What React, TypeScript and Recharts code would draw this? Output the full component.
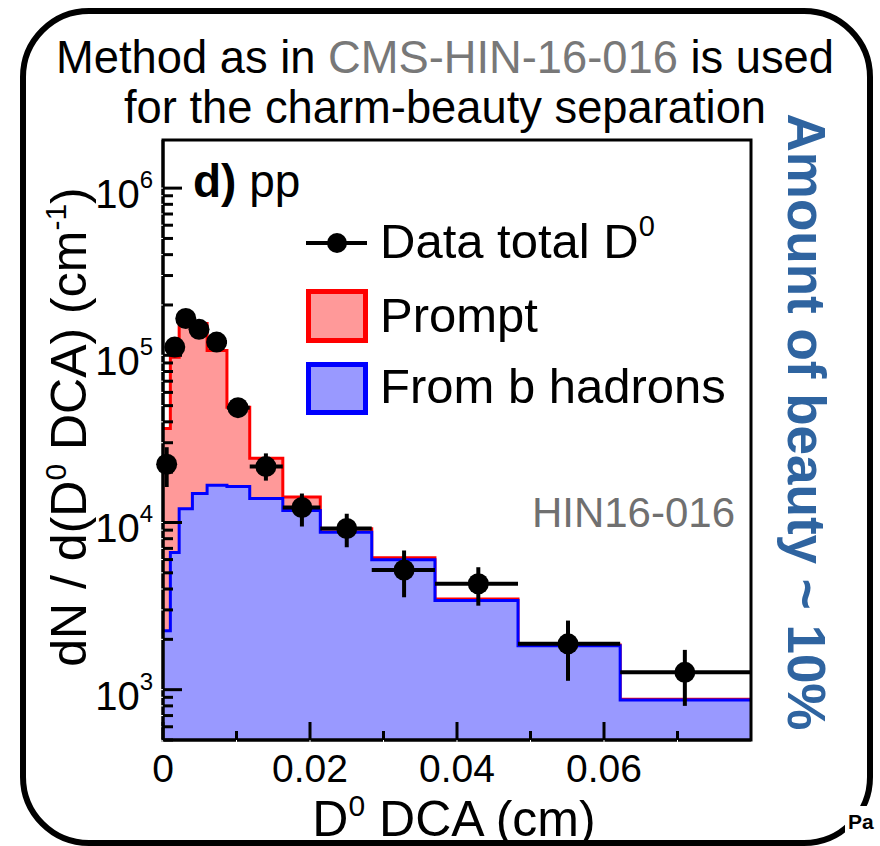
import React from "react";
import { ComposedChart, Area, Scatter, ErrorBar, XAxis, YAxis, ReferenceArea } from "recharts";

// D0 DCA bin edges (cm)
const binEdges = [0, 0.001, 0.0022, 0.004, 0.006, 0.0087, 0.0118, 0.0163, 0.0214, 0.0284, 0.037, 0.0483, 0.0622, 0.08];
// stacked template: prompt + from b (drawn red), and from b alone (drawn blue)
const promptPlusB = [36500, 97300, 160000, 155000, 107000, 48900, 24200, 14200, 9170, 6150, 3490, 1850, 875];
const fromB = [2250, 6610, 12100, 14900, 16700, 16400, 13900, 11800, 8750, 5990, 3410, 1830, 868];

// data total D0
const dataX = [0.0005, 0.0016, 0.0031, 0.0049, 0.0073, 0.0102, 0.014, 0.0189, 0.025, 0.0328, 0.0429, 0.0551, 0.071];
const dataY = [22300, 112000, 166000, 143000, 120000, 48600, 21600, 12300, 9200, 5200, 4300, 1880, 1270];
const dataYLow = [16300, 105000, 156000, 134000, 113000, 45000, 17800, 9460, 7110, 3570, 3180, 1130, 800];
const dataYHigh = [28200, 119000, 176000, 152000, 127000, 52500, 25900, 14900, 11280, 6800, 5400, 2590, 1730];

const yTicks = [
  500, 600, 700, 800, 900,
  1000, 2000, 3000, 4000, 5000, 6000, 7000, 8000, 9000,
  10000, 20000, 30000, 40000, 50000, 60000, 70000, 80000, 90000,
  100000, 200000, 300000, 400000, 500000, 600000, 700000, 800000, 900000,
  1000000,
];
const yMajor = [1000, 10000, 100000, 1000000];
const xTicks = [0, 0.01, 0.02, 0.03, 0.04, 0.05, 0.06, 0.07];
const xLabels = [0, 0.02, 0.04, 0.06];

const Y_MIN = 500;
const Y_MAX = 1.94e6;
const FONT = "'Liberation Sans', Arial, Helvetica, sans-serif";
const frameLine = { stroke: "#000", strokeWidth: 3 };

const histData = binEdges.map((x, i) => ({
  x,
  total: promptPlusB[Math.min(i, promptPlusB.length - 1)],
  b: fromB[Math.min(i, fromB.length - 1)],
}));

const points = dataX.map((x, i) => ({
  x,
  y: dataY[i],
  ex: [x - binEdges[i], binEdges[i + 1] - x],
  ey: [dataY[i] - dataYLow[i], dataYHigh[i] - dataY[i]],
}));

// ROOT-style ticks pointing into the frame; x/y come from the axis
// (label anchor sits tickSize 6 + tickMargin 2 = 8px off the axis line)
const YTick = ({ x, y, payload }: any) => {
  const v = payload.value;
  const major = yMajor.includes(v);
  const ax = x + 8;
  return (
    <g>
      <line x1={ax} x2={ax + (major ? 19 : 10)} y1={y} y2={y} stroke="#000" strokeWidth={3} />
      {major && (
        <text x={ax - 10} y={y + 20} textAnchor="end" fontSize={40} fontFamily={FONT} fill="#000">
          10
          <tspan fontSize={24} dy={-20}>{Math.round(Math.log10(v))}</tspan>
        </text>
      )}
    </g>
  );
};

const XTick = ({ x, y, payload }: any) => {
  const v = payload.value;
  const major = xLabels.includes(v);
  const ay = y - 8;
  return (
    <g>
      <line x1={x} x2={x} y1={ay} y2={ay - (major ? 18 : 9)} stroke="#000" strokeWidth={3} />
      {major && (
        <text x={x} y={ay + 42} textAnchor="middle" fontSize={39} fontFamily={FONT} fill="#000">
          {v === 0 ? "0" : v.toFixed(2)}
        </text>
      )}
    </g>
  );
};

const Dot = (p: any) => <circle cx={p.cx} cy={p.cy} r={10.5} fill="#000" />;

export default function App() {
  return (
    <div style={{ position: "absolute", left: 0, top: 0, width: 880, height: 846, background: "#fff", overflow: "hidden", fontFamily: FONT }}>
      <ComposedChart
        width={880}
        height={846}
        data={histData}
        margin={{ top: 140, right: 129, bottom: 46, left: 63 }}
      >
        <Area
          type="stepAfter"
          dataKey="total"
          stroke="#ff0000"
          strokeWidth={3}
          fill="#ff9999"
          fillOpacity={1}
          baseValue="dataMin"
          isAnimationActive={false}
        />
        <Area
          type="stepAfter"
          dataKey="b"
          stroke="#0000ff"
          strokeWidth={3}
          fill="#9999ff"
          fillOpacity={1}
          baseValue="dataMin"
          isAnimationActive={false}
        />
        <XAxis
          dataKey="x"
          type="number"
          domain={[0, 0.08]}
          ticks={xTicks}
          interval={0}
          height={60}
          tick={<XTick />}
          stroke="#fff"
          axisLine={frameLine}
        />
        <YAxis
          type="number"
          scale="log"
          domain={[Y_MIN, Y_MAX]}
          ticks={yTicks}
          interval={0}
          width={100}
          tick={<YTick />}
          stroke="#fff"
          axisLine={frameLine}
        />
        <ReferenceArea x1={0} x2={0.08} y1={Y_MIN} y2={Y_MAX} fill="none" fillOpacity={0} stroke="#000" strokeWidth={3} />
        <Scatter data={points} dataKey="y" shape={<Dot />} isAnimationActive={false}>
          <ErrorBar dataKey="ey" direction="y" width={0} stroke="#000" strokeWidth={4} />
          <ErrorBar dataKey="ex" direction="x" width={0} stroke="#000" strokeWidth={4} />
        </Scatter>
      </ComposedChart>

      <svg width={880} height={846} style={{ position: "absolute", left: 0, top: 0, pointerEvents: "none" }} fontFamily={FONT}>
        <rect x={23} y={11} width={847} height={832} rx={66} fill="none" stroke="#000" strokeWidth={6} />

        <text x={445} y={73} textAnchor="middle" fontSize={45.3} fill="#000">
          Method as in <tspan fill="#787878">CMS-HIN-16-016</tspan> is used
        </text>
        <text x={445} y={123} textAnchor="middle" fontSize={45.3} fill="#000">
          for the charm-beauty separation
        </text>

        <text transform="translate(788,422) rotate(90)" textAnchor="middle" fontSize={53} fontWeight="bold" fill="#2f64a0">
          Amount of beauty ~ 10%
        </text>

        <text transform="translate(86,427) rotate(-90)" textAnchor="middle" fontSize={50} fill="#000">
          dN / d(D<tspan fontSize={30} dy={-20}>0</tspan>
          <tspan dy={20}> DCA) (cm</tspan>
          <tspan fontSize={30} dy={-20}>-1</tspan>
          <tspan dy={20}>)</tspan>
        </text>

        <text x={454} y={836} textAnchor="middle" fontSize={50} fill="#000">
          D<tspan fontSize={30} dy={-20}>0</tspan>
          <tspan dy={20}> DCA (cm)</tspan>
        </text>

        <text x={193} y={197} fontSize={46} fill="#000">
          <tspan fontWeight="bold">d)</tspan> pp
        </text>

        <line x1={306} x2={367} y1={243} y2={243} stroke="#000" strokeWidth={4} />
        <circle cx={337} cy={243} r={10} fill="#000" />
        <text x={380} y={258} fontSize={49} fill="#000">
          Data total D<tspan fontSize={29} dy={-22}>0</tspan>
        </text>
        <rect x={308.5} y={291.5} width={57} height={49} fill="#ff9999" stroke="#ff0000" strokeWidth={5} />
        <text x={380} y={332} fontSize={49} fill="#000">Prompt</text>
        <rect x={308.5} y={364.5} width={57} height={48} fill="#9999ff" stroke="#0000ff" strokeWidth={5} />
        <text x={380} y={403} fontSize={49} fill="#000">From b hadrons</text>

        <text x={735} y={527} textAnchor="end" fontSize={42} fill="#707070">HIN16-016</text>

        <rect x={845} y={806} width={35} height={28} fill="#fff" />
        <text x={848} y={829} fontSize={21} fontWeight="bold" fill="#000">Pa</text>
      </svg>
    </div>
  );
}
